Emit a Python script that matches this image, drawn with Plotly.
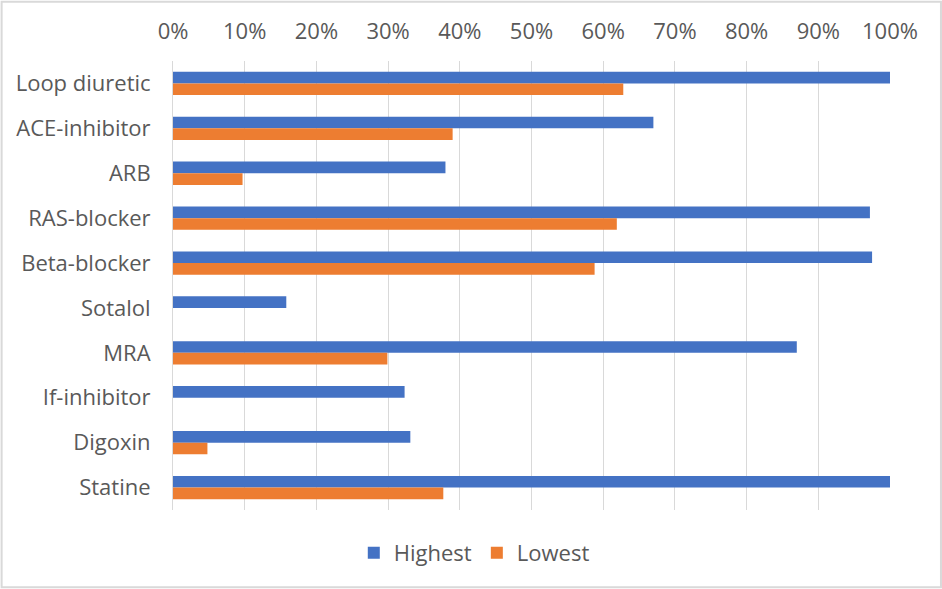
import plotly.graph_objects as go

categories = ["Loop diuretic", "ACE-inhibitor", "ARB", "RAS-blocker", "Beta-blocker",
              "Sotalol", "MRA", "If-inhibitor", "Digoxin", "Statine"]
highest = [1.00, 0.670, 0.380, 0.972, 0.975, 0.158, 0.870, 0.323, 0.331, 1.00]
lowest = [0.628, 0.390, 0.097, 0.619, 0.588, 0.0, 0.299, 0.0, 0.048, 0.377]

W, H = 942, 589
L, R, T, B = 172.5, 52, 60.5, 78.5
pw, ph = W - L - R, H - T - B

fig = go.Figure()
fig.add_trace(go.Bar(y=categories, x=highest, name="Highest", orientation="h",
                     marker=dict(color="#4472C4", line=dict(width=0))))
fig.add_trace(go.Bar(y=categories, x=lowest, name="Lowest", orientation="h",
                     marker=dict(color="#ED7D31", line=dict(width=0))))

font = dict(family="Open Sans, Liberation Sans, Arial", size=22, color="#595959")

legend_center_px = 474
fig.update_layout(
    width=W, height=H,
    margin=dict(l=L, r=R, t=T, b=B, pad=0, autoexpand=False),
    barmode="group", bargap=0.48, bargroupgap=0,
    plot_bgcolor="white", paper_bgcolor="white",
    font=font,
    xaxis=dict(side="top", range=[0, 1], tickformat=".0%", dtick=0.1,
               showgrid=True, gridcolor="#d9d9d9", gridwidth=1,
               zeroline=False, showline=False, ticks="", ticklen=0,
               tickfont=font, ticklabelstandoff=17),
    yaxis=dict(autorange="reversed", showgrid=False, zeroline=False,
               showline=True, linecolor="#d9d9d9", linewidth=1,
               ticks="", tickfont=font, ticklabelstandoff=17),
    legend=dict(orientation="h", x=(legend_center_px - L) / pw, xanchor="center",
                y=-0.049, yanchor="top",
                font=font, traceorder="normal", itemwidth=30),
    showlegend=True,
)

# chart-area border
fig.add_shape(type="rect", xref="paper", yref="paper",
              x0=(1 - L) / pw, x1=(W - 1 - L) / pw,
              y0=-(H - 1 - T - ph) / ph, y1=1 + (T - 1) / ph,
              line=dict(color="#d9d9d9", width=2), layer="below")

fig.write_html("out.html")
